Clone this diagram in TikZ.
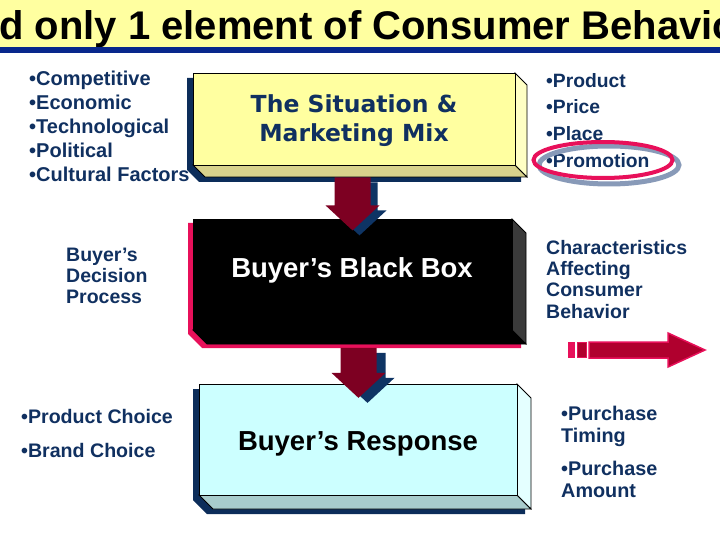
\documentclass[tikz,border=0pt]{standalone}
\usepackage{fontspec}
\setmainfont{Liberation Sans}
\newfontfamily\mixfont{DejaVu Sans}
\usetikzlibrary{calc}

\definecolor{navytext}{RGB}{16,48,96}
\definecolor{titleyellow}{RGB}{255,255,160}
\definecolor{titleblue}{RGB}{8,40,140}
\definecolor{boxshadow}{RGB}{12,45,90}
\definecolor{sitface}{RGB}{255,255,160}
\definecolor{sitside}{RGB}{255,255,196}
\definecolor{sitbottom}{RGB}{216,210,140}
\definecolor{blackside}{RGB}{58,58,58}
\definecolor{hotpink}{RGB}{232,16,90}
\definecolor{darkred}{RGB}{176,0,46}
\definecolor{respface}{RGB}{204,255,255}
\definecolor{respside}{RGB}{228,255,255}
\definecolor{respbottom}{RGB}{168,204,204}
\definecolor{arrowred}{RGB}{125,0,34}
\definecolor{arrowshadow}{RGB}{14,52,100}
\definecolor{ringshadow}{RGB}{136,154,184}

\begin{document}
\begin{tikzpicture}[x=1pt, y=-1pt,
    listtext/.style={font=\bfseries\fontsize{20}{24}\selectfont, text=navytext, align=left, anchor=base west, inner sep=0pt},
    facebox/.style={draw=black, line width=0.8pt, inner sep=0pt},
    boxlabel/.style={font=\bfseries\fontsize{27.5}{30}\selectfont, inner sep=0pt, anchor=base}]
    \useasboundingbox (0,0) rectangle (720,540);

    % title band
    \fill[titleyellow] (0,0) rectangle (720,47);
    \fill[titleblue] (0,47) rectangle (720,53);
    \begin{scope}
        \clip (0,0) rectangle (720,47);
        \node[anchor=base west, inner sep=0pt, font=\bfseries\fontsize{40}{40}\selectfont] (title) at (-1,40) {d only 1 element of  Consumer Behavio};
    \end{scope}

    % situation box
    \fill[boxshadow] (187,78) -- (509,78) -- (521,90) -- (521,182) -- (199,182) -- (187,170) -- cycle;
    \filldraw[fill=sitbottom, line width=0.8pt] (193,165) -- (515,165) -- (527,177) -- (205,177) -- cycle;
    \filldraw[fill=sitside, line width=0.8pt] (515,73) -- (527,85) -- (527,177) -- (515,165) -- cycle;
    \node[facebox, fill=sitface, minimum width=322pt, minimum height=92pt] (sit) at (354,119) {};
    \node[inner sep=0pt, anchor=base, text=navytext, align=center,
        font=\mixfont\bfseries\fontsize{23.5}{29}\selectfont] (sittext) at (354,142) {The Situation \&\\Marketing Mix};

    % black box
    \fill[hotpink] (188,223) -- (507,223) -- (521,237) -- (521,348) -- (202,348) -- (188,334) -- cycle;
    \filldraw[fill=black, line width=0.8pt] (193,330) -- (512,330) -- (526,344) -- (207,344) -- cycle;
    \filldraw[fill=blackside, line width=0.8pt] (512,219) -- (526,233) -- (526,344) -- (512,330) -- cycle;
    \node[facebox, fill=black, minimum width=319pt, minimum height=111pt] (black) at (352.5,274.5) {};
    \node[boxlabel, text=white] (blacktext) at (352,277) {Buyer’s Black Box};

    % response box
    \fill[boxshadow] (193,389) -- (511,389) -- (525,403) -- (525,514) -- (207,514) -- (193,500) -- cycle;
    \filldraw[fill=respbottom, line width=0.8pt] (199,495) -- (517,495) -- (531,509) -- (213,509) -- cycle;
    \filldraw[fill=respside, line width=0.8pt] (517,384) -- (531,398) -- (531,509) -- (517,495) -- cycle;
    \node[facebox, fill=respface, minimum width=318pt, minimum height=111pt] (resp) at (358,439.5) {};
    \node[boxlabel] (resptext) at (358,450) {Buyer’s Response};

    % down arrows
    \coordinate (top1) at ($(sit.south)+(-1.5,12)$);
    \coordinate (top2) at ($(black.south)+(6,17.5)$);
    \fill[arrowshadow] ($(top1)+(7,5)$) ++(-18,0) -- ++(36,0) -- ++(0,28) -- ++(9,0) -- ++(-27,25) -- ++(-27,-25) -- ++(9,0) -- cycle;
    \fill[arrowred] (top1) ++(-18,0) -- ++(36,0) -- ++(0,28) -- ++(9,0) -- ++(-27,25) -- ++(-27,-25) -- ++(9,0) -- cycle;
    \fill[arrowshadow] ($(top2)+(9,5)$) ++(-18,0) -- ++(36,0) -- ++(0,25) -- ++(9,0) -- ++(-27,25) -- ++(-27,-25) -- ++(9,0) -- cycle;
    \fill[arrowred] (top2) ++(-18,0) -- ++(36,0) -- ++(0,25) -- ++(9,0) -- ++(-27,25) -- ++(-27,-25) -- ++(9,0) -- cycle;

    % side texts
    \node[listtext] (env) at (29,182) {•Competitive\\•Economic\\•Technological\\•Political\\•Cultural Factors};
    \node[listtext, font=\bfseries\fontsize{19.3}{27}\selectfont] (mix) at (546,168) {•Product\\•Price\\•Place\\•Promotion};
    \node[listtext, font=\bfseries\fontsize{19.5}{21}\selectfont] (decision) at (66,303) {Buyer’s\\Decision\\Process};
    \node[listtext, font=\bfseries\fontsize{19.5}{21.3}\selectfont] (traits) at (546,318) {Characteristics\\Affecting\\Consumer\\Behavior};
    \node[listtext, font=\bfseries\fontsize{19.6}{34}\selectfont] (choice) at (21,457) {•Product Choice\\•Brand Choice};
    \node[listtext, font=\bfseries\fontsize{19.8}{21.5}\selectfont] (purchase) at (561,497) {•Purchase\\Timing\\[12pt]•Purchase\\Amount};

    % ring round promotion
    \draw[ringshadow, line width=5pt] (609,165) ellipse [x radius=70, y radius=19];
    \draw[hotpink, line width=4pt] (603,160) ellipse [x radius=69.5, y radius=18];

    % pink arrow
    \filldraw[fill=darkred, draw=hotpink, line width=1.5pt] (589,342) -- (668,342) -- (668,333) -- (705,350) -- (668,367) -- (668,358) -- (589,358) -- cycle;
    \fill[hotpink] (568,342) rectangle (575,358);
    \filldraw[fill=darkred, draw=hotpink, line width=1.5pt] (577.5,342.5) rectangle (586.5,357.5);
\end{tikzpicture}
\end{document}
